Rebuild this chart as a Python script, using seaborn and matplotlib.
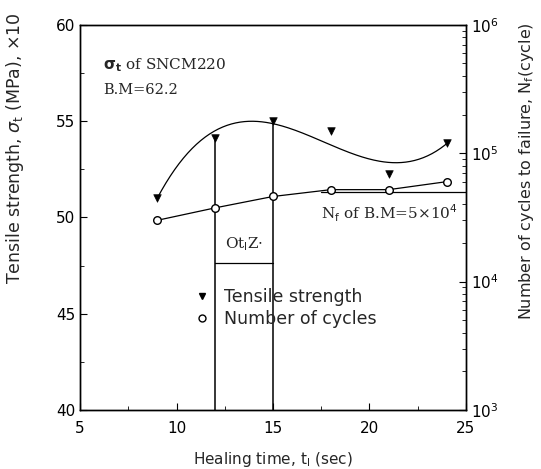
import numpy as np
import pandas as pd
import matplotlib
matplotlib.use("Agg")
import matplotlib.pyplot as plt
import seaborn as sns
from matplotlib.ticker import MultipleLocator, LogLocator, NullFormatter
from matplotlib.lines import Line2D

# ---- data ----
heal_time = [9, 12, 15, 18, 21, 24]
tensile = [51.0, 54.1, 55.0, 54.5, 52.26, 53.87]
cycles = [3.0e4, 3.75e4, 4.6e4, 5.2e4, 5.2e4, 6.0e4]
# smooth trend curve as drawn in the figure (read at the data times)
trend_y = [51.0, 54.45, 55.0, 53.6, 52.95, 53.8]
bm_cycles = 5e4
bm_line_x = [17.5, 25]
opt_times = [12, 15]

sns.set_style("ticks")
plt.rcParams['font.family'] = ['DejaVu Sans']

fig = plt.figure(figsize=(5.41, 4.69), dpi=100)
ax = fig.add_axes([0.148, 0.126, 0.713, 0.821])

df = pd.DataFrame({"t": heal_time, "s": tensile, "n": cycles})

# smooth curve through trend values (cubic fit)
coef = np.polyfit(heal_time, trend_y, 3)
xs = np.linspace(heal_time[0], heal_time[-1], 200)
sns.lineplot(x=xs, y=np.polyval(coef, xs), ax=ax, color="black", lw=0.9)
sns.scatterplot(data=df, x="t", y="s", ax=ax, marker="v", color="black",
                s=30, edgecolor="black", zorder=5)

# vertical lines at optimal healing times
for t in opt_times:
    s = tensile[heal_time.index(t)]
    ax.plot([t, t], [40, s], color="black", lw=1.1)
# bracket
ax.plot(opt_times, [47.65, 47.65], color="black", lw=0.9)
ax.text(13.5, 48.6, "Ot$_{\\mathrm{l}}$Z$\\cdot$", ha="center", va="center",
        fontsize=11, family="DejaVu Serif")

ax.set_xlim(5, 25)
ax.set_ylim(40, 60)
ax.xaxis.set_major_locator(MultipleLocator(5))
ax.xaxis.set_minor_locator(MultipleLocator(2.5))
ax.yaxis.set_major_locator(MultipleLocator(5))
ax.yaxis.set_minor_locator(MultipleLocator(2.5))
ax.tick_params(which="both", direction="in", labelsize=11, colors="black")
ax.tick_params(which="major", length=5)
ax.tick_params(which="minor", length=3)
ax.tick_params(axis="x", pad=8)
ax.set_xlabel("Healing time, t$_{\\mathrm{l}}$ (sec)", fontsize=11, labelpad=10)
ax.set_ylabel("Tensile strength, $\\sigma_{\\mathrm{t}}$ (MPa), \u00d710", fontsize=12.5)
ax.yaxis.set_label_coords(-0.14, 0.68)

ax.text(6.2, 57.7, "$\\mathbf{\\sigma_t}$ of SNCM220", fontsize=11, family="DejaVu Serif")
ax.text(6.2, 56.4, "B.M=62.2", fontsize=10.5, family="DejaVu Serif")

# right axis: number of cycles (log)
ax2 = ax.twinx()
sns.lineplot(data=df, x="t", y="n", ax=ax2, color="black", lw=0.9)
sns.scatterplot(data=df, x="t", y="n", ax=ax2, marker="o", s=30,
                facecolor="white", edgecolor="black", linewidth=1, zorder=5)
ax2.plot(bm_line_x, [bm_cycles, bm_cycles], color="black", lw=0.9)
ax2.set_yscale("log")
ax2.set_ylim(1e3, 1e6)
ax2.yaxis.set_major_locator(LogLocator(base=10, numticks=10))
ax2.yaxis.set_minor_locator(LogLocator(base=10, subs=np.arange(2, 10), numticks=10))
ax2.yaxis.set_minor_formatter(NullFormatter())
ax2.tick_params(which="both", direction="in", labelsize=11, colors="black")
ax2.tick_params(which="major", length=5)
ax2.tick_params(which="minor", length=3)
ax2.set_ylabel("Number of cycles to failure, N$_{\\mathrm{f}}$(cycle)", fontsize=11.5)
ax2.yaxis.set_label_coords(1.132, 0.62)
ax2.set_xlim(5, 25)
ax2.text(24.6, 3.4e4, "N$_{\\mathrm{f}}$ of B.M=5\u00d710$^{4}$", ha="right", va="center",
         fontsize=11, family="DejaVu Serif")

for a in (ax, ax2):
    for sp in a.spines.values():
        sp.set_color("black")
        sp.set_linewidth(1)

# legend
handles = [Line2D([], [], marker="v", color="black", ls="none", markersize=5),
           Line2D([], [], marker="o", markerfacecolor="white", markeredgecolor="black",
                  ls="none", markersize=5)]
ax2.legend(handles, ["Tensile strength", "Number of cycles"], loc="upper left",
           bbox_to_anchor=(0.253, 0.358), frameon=False, fontsize=12.5,
           handlelength=1.0, handletextpad=0.78, labelspacing=0.25, borderpad=0.4)

fig.savefig("out.png", dpi=100)
